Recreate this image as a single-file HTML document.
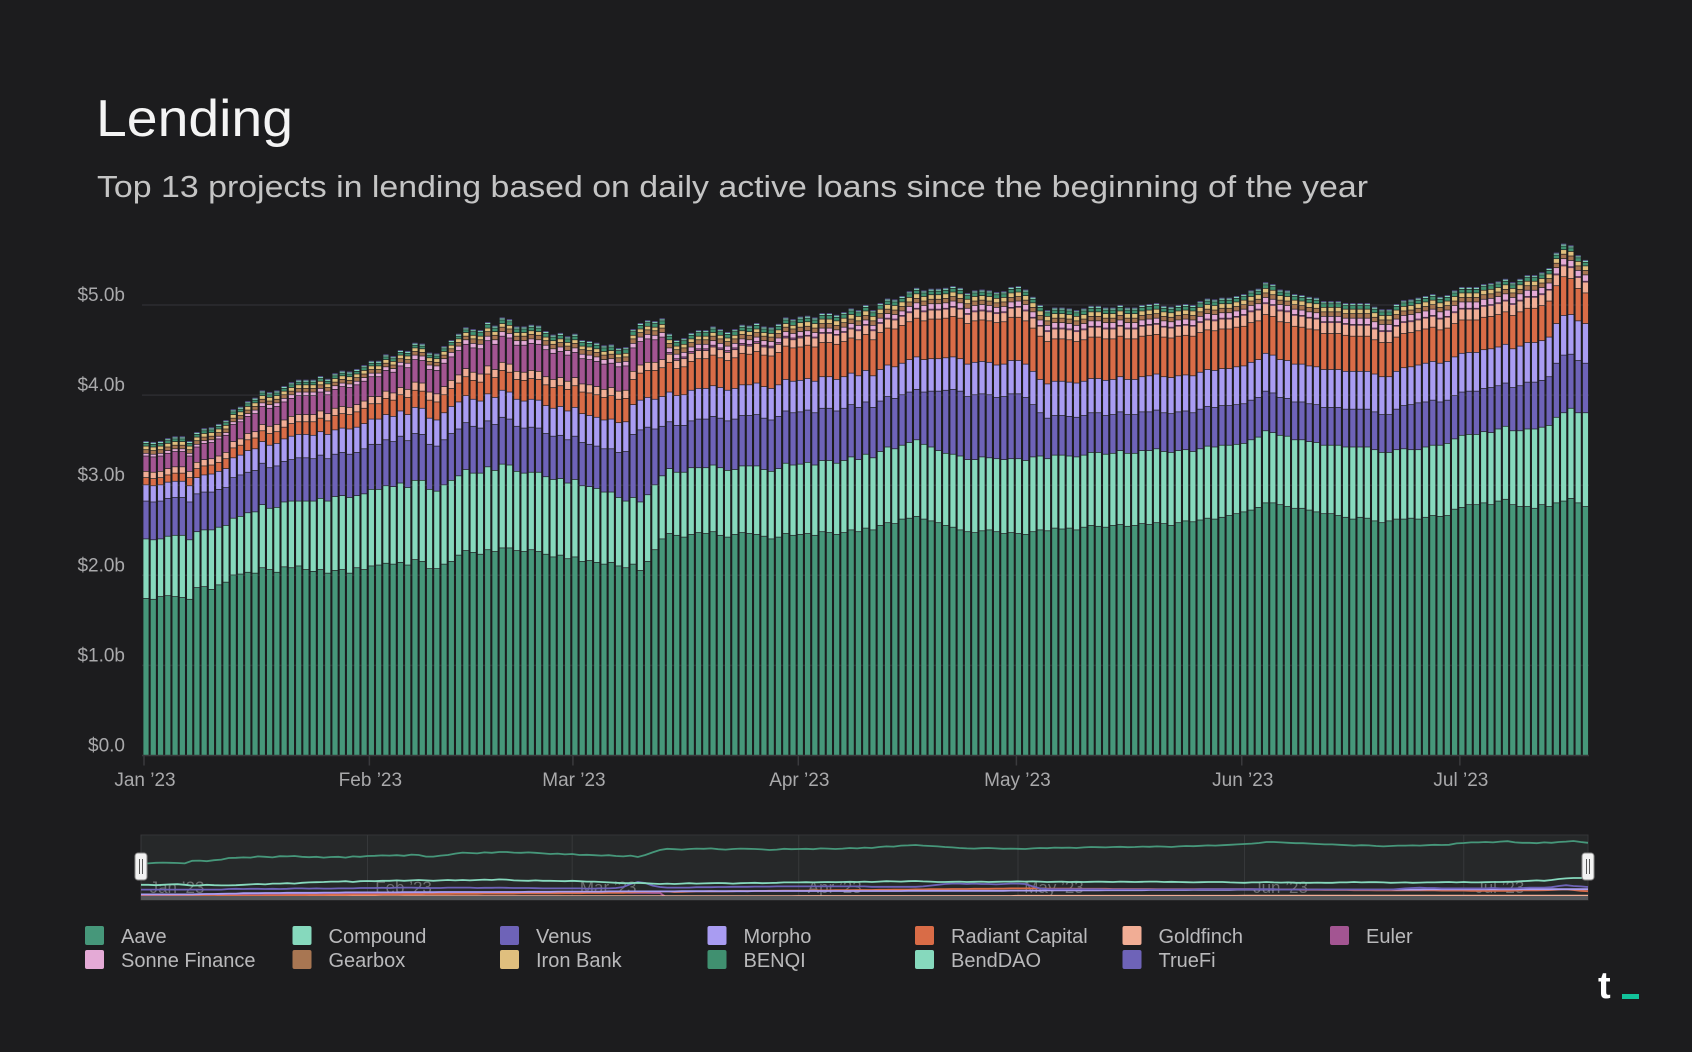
<!DOCTYPE html>
<html><head><meta charset="utf-8">
<style>
html,body{margin:0;padding:0;background:#1c1c1e;}
svg{display:block;font-family:"Liberation Sans",sans-serif;}
</style></head>
<body>
<svg id="chart" width="1692" height="1052" viewBox="0 0 1692 1052">
<rect x="0" y="0" width="1692" height="1052" fill="#1c1c1e"/>
<text x="96" y="136" font-size="52" fill="#f4f4f4" textLength="197" lengthAdjust="spacingAndGlyphs">Lending</text>
<text x="97" y="197" font-size="31" fill="#c4c4c4" textLength="1271" lengthAdjust="spacingAndGlyphs">Top 13 projects in lending based on daily active loans since the beginning of the year</text>
<g id="grid"></g>
<g id="bars"></g>
<g id="axes"></g>
<g id="nav"></g>
<g id="legend"></g>
<g>
<text x="1598" y="998" font-size="38" font-weight="bold" fill="#ffffff">t</text>
<rect x="1622" y="994" width="17" height="5" fill="#12c29a"/>
</g>
</svg>
<script>
// ---- data (billions USD) ----
const monthLabels = ["Jan \u201923","Feb \u201923","Mar \u201923","Apr \u201923","May \u201923","Jun \u201923","Jul \u201923"];
const monthStartDay = [0,31,59,90,120,151,181];
const yTicks = [0,1,2,3,4,5];
const yTickLabels = ["$0.0","$1.0b","$2.0b","$3.0b","$4.0b","$5.0b"];
const seriesNames = ["Aave","Compound","Venus","Morpho","Radiant Capital","Goldfinch","Euler","Sonne Finance","Gearbox","Iron Bank","BENQI","BendDAO","TrueFi"];
const seriesColors = ["#46977a","#86d9bd","#6e63b8","#a99cf2","#d96c47","#f1ad95","#a35592","#e4aad6","#a87652","#e0bf7e","#409070","#86d9bd","#6e63b8"];

const aave = [1.74,1.73,1.76,1.77,1.76,1.75,1.73,1.86,1.87,1.84,1.89,1.92,2.00,2.01,2.03,2.02,2.08,2.06,2.03,2.09,2.08,2.10,2.06,2.04,2.06,2.02,2.05,2.06,2.02,2.08,2.06,
2.10,2.11,2.13,2.12,2.14,2.11,2.17,2.15,2.07,2.07,2.12,2.15,2.22,2.27,2.25,2.23,2.28,2.26,2.30,2.30,2.27,2.26,2.28,2.26,2.23,2.20,2.22,2.18,
2.20,2.15,2.16,2.14,2.12,2.14,2.10,2.08,2.12,2.05,2.15,2.28,2.40,2.46,2.44,2.42,2.45,2.47,2.46,2.48,2.44,2.42,2.45,2.47,2.46,2.45,2.43,2.40,2.42,2.46,2.44,
2.45,2.46,2.44,2.48,2.47,2.45,2.47,2.50,2.48,2.52,2.50,2.55,2.58,2.57,2.62,2.63,2.65,2.62,2.60,2.58,2.55,2.53,2.50,2.48,2.47,2.49,2.50,2.48,2.46,2.47,
2.46,2.45,2.48,2.50,2.49,2.52,2.51,2.52,2.50,2.53,2.55,2.54,2.53,2.55,2.56,2.54,2.55,2.57,2.56,2.58,2.57,2.55,2.58,2.60,2.59,2.61,2.63,2.62,2.64,2.66,2.68,
2.70,2.72,2.75,2.80,2.80,2.78,2.76,2.74,2.74,2.72,2.70,2.68,2.68,2.66,2.64,2.62,2.64,2.63,2.60,2.58,2.60,2.62,2.62,2.63,2.62,2.64,2.66,2.65,2.66,2.73,
2.75,2.78,2.78,2.80,2.78,2.82,2.84,2.78,2.76,2.76,2.74,2.78,2.76,2.80,2.82,2.85,2.80,2.76];
const compound = [0.66,0.66,0.64,0.66,0.68,0.69,0.66,0.62,0.63,0.66,0.64,0.63,0.63,0.64,0.66,0.68,0.70,0.68,0.72,0.72,0.74,0.72,0.76,0.78,0.79,0.80,0.82,0.82,0.84,0.80,0.84,
0.85,0.84,0.86,0.86,0.88,0.86,0.88,0.90,0.88,0.86,0.88,0.90,0.88,0.90,0.88,0.90,0.92,0.90,0.93,0.92,0.88,0.87,0.86,0.88,0.86,0.86,0.85,0.84,
0.86,0.84,0.82,0.82,0.80,0.78,0.76,0.74,0.74,0.76,0.74,0.72,0.70,0.72,0.70,0.72,0.74,0.72,0.73,0.74,0.75,0.74,0.72,0.74,0.75,0.76,0.74,0.75,0.76,0.78,0.78,
0.78,0.79,0.78,0.79,0.80,0.79,0.80,0.81,0.80,0.82,0.80,0.82,0.84,0.83,0.82,0.84,0.85,0.83,0.82,0.80,0.80,0.81,0.82,0.80,0.81,0.82,0.80,0.81,0.82,0.82,
0.83,0.82,0.83,0.82,0.80,0.81,0.82,0.80,0.81,0.80,0.81,0.82,0.81,0.80,0.82,0.81,0.80,0.81,0.82,0.82,0.80,0.81,0.80,0.79,0.78,0.79,0.80,0.80,0.80,0.78,0.77,
0.76,0.78,0.78,0.80,0.78,0.77,0.78,0.76,0.76,0.76,0.77,0.76,0.76,0.78,0.78,0.80,0.78,0.79,0.79,0.78,0.76,0.77,0.78,0.76,0.77,0.78,0.78,0.79,0.80,0.78,
0.80,0.78,0.78,0.79,0.80,0.80,0.81,0.82,0.84,0.86,0.88,0.86,0.90,0.95,0.98,1.00,1.00,1.04];
const venus = [0.42,0.42,0.42,0.42,0.42,0.42,0.42,0.42,0.42,0.42,0.42,0.42,0.45,0.46,0.45,0.46,0.46,0.45,0.46,0.45,0.46,0.48,0.48,0.47,0.48,0.47,0.47,0.48,0.48,0.48,0.50,
0.50,0.50,0.51,0.50,0.52,0.52,0.52,0.51,0.50,0.50,0.50,0.52,0.52,0.52,0.52,0.50,0.51,0.51,0.52,0.51,0.50,0.50,0.50,0.49,0.48,0.48,0.48,0.48,
0.48,0.48,0.47,0.47,0.48,0.48,0.50,0.55,0.70,0.80,0.75,0.62,0.55,0.52,0.52,0.52,0.52,0.54,0.54,0.54,0.55,0.55,0.56,0.56,0.56,0.57,0.57,0.57,0.58,0.58,0.58,
0.58,0.58,0.58,0.58,0.58,0.58,0.58,0.58,0.58,0.58,0.56,0.56,0.56,0.56,0.56,0.56,0.56,0.58,0.62,0.66,0.70,0.72,0.72,0.70,0.72,0.70,0.70,0.68,0.70,0.72,
0.72,0.70,0.58,0.48,0.45,0.44,0.44,0.44,0.44,0.44,0.44,0.44,0.43,0.43,0.43,0.43,0.43,0.43,0.43,0.43,0.43,0.43,0.43,0.43,0.43,0.44,0.44,0.44,0.44,0.44,0.44,
0.44,0.44,0.44,0.44,0.44,0.42,0.42,0.42,0.42,0.42,0.42,0.42,0.42,0.42,0.42,0.42,0.42,0.42,0.42,0.42,0.42,0.45,0.48,0.50,0.52,0.50,0.50,0.48,0.48,0.48,
0.48,0.48,0.48,0.48,0.50,0.48,0.48,0.48,0.50,0.52,0.52,0.52,0.54,0.60,0.64,0.60,0.58,0.55];
const morpho = [0.18,0.18,0.18,0.18,0.18,0.18,0.18,0.18,0.19,0.20,0.20,0.21,0.22,0.22,0.24,0.24,0.24,0.25,0.25,0.25,0.26,0.26,0.26,0.26,0.26,0.27,0.27,0.27,0.28,0.28,0.28,
0.28,0.28,0.28,0.28,0.28,0.29,0.29,0.29,0.29,0.29,0.30,0.30,0.30,0.30,0.30,0.30,0.30,0.30,0.30,0.30,0.30,0.30,0.31,0.31,0.31,0.31,0.32,0.32,
0.32,0.32,0.32,0.32,0.32,0.33,0.33,0.33,0.33,0.33,0.33,0.33,0.33,0.33,0.33,0.34,0.34,0.34,0.34,0.34,0.34,0.34,0.34,0.34,0.34,0.35,0.35,0.35,0.35,0.35,0.35,
0.35,0.35,0.35,0.35,0.35,0.35,0.35,0.35,0.35,0.35,0.35,0.35,0.35,0.35,0.35,0.36,0.36,0.36,0.36,0.36,0.36,0.36,0.36,0.36,0.36,0.36,0.36,0.36,0.36,0.37,
0.37,0.37,0.37,0.37,0.38,0.38,0.38,0.38,0.38,0.38,0.38,0.38,0.39,0.39,0.39,0.39,0.39,0.39,0.40,0.40,0.40,0.40,0.40,0.40,0.41,0.41,0.41,0.41,0.41,0.41,0.42,
0.42,0.42,0.42,0.42,0.42,0.42,0.42,0.42,0.42,0.42,0.42,0.42,0.42,0.42,0.42,0.42,0.42,0.42,0.42,0.42,0.42,0.42,0.42,0.42,0.42,0.43,0.43,0.43,0.43,0.43,
0.43,0.43,0.43,0.43,0.43,0.43,0.43,0.43,0.44,0.44,0.44,0.44,0.44,0.44,0.44,0.44,0.44,0.44];
const radiant = [0.08,0.08,0.08,0.08,0.09,0.09,0.09,0.10,0.10,0.10,0.10,0.11,0.11,0.11,0.12,0.12,0.12,0.13,0.13,0.13,0.14,0.14,0.14,0.15,0.15,0.15,0.16,0.16,0.16,0.17,0.17,
0.17,0.17,0.18,0.18,0.18,0.19,0.19,0.19,0.20,0.20,0.20,0.20,0.21,0.21,0.21,0.21,0.22,0.22,0.22,0.22,0.22,0.23,0.23,0.23,0.23,0.23,0.23,0.24,
0.24,0.24,0.25,0.25,0.25,0.26,0.26,0.26,0.28,0.30,0.30,0.32,0.32,0.33,0.30,0.31,0.32,0.33,0.33,0.34,0.33,0.33,0.34,0.35,0.34,0.35,0.35,0.36,0.36,0.37,0.37,
0.37,0.37,0.38,0.38,0.38,0.39,0.39,0.39,0.40,0.40,0.40,0.41,0.41,0.42,0.42,0.42,0.43,0.43,0.44,0.44,0.44,0.45,0.45,0.45,0.46,0.46,0.46,0.47,0.47,0.48,
0.48,0.48,0.48,0.48,0.47,0.47,0.47,0.47,0.46,0.46,0.46,0.46,0.46,0.45,0.45,0.45,0.45,0.45,0.45,0.44,0.44,0.44,0.44,0.44,0.44,0.44,0.44,0.44,0.44,0.44,0.44,
0.44,0.44,0.43,0.43,0.43,0.42,0.42,0.42,0.41,0.41,0.41,0.40,0.40,0.40,0.40,0.39,0.39,0.39,0.38,0.38,0.38,0.38,0.38,0.38,0.38,0.38,0.38,0.37,0.37,0.37,
0.37,0.36,0.36,0.36,0.36,0.36,0.36,0.37,0.38,0.38,0.38,0.39,0.40,0.42,0.43,0.40,0.36,0.34];
// small series: one base-36 character per day, unit = $10m
const goldfinchCodes = "77777777777777777"+"88888888888888"+"8888899999999999999999999999"+"9999999999999999999999999999999"+"aaaaaaaaaaaaaaaaaaaaaaaaaaaaaa"+"bbbbbbbbbbbbbbbbbbbbbbbbbbbbbbb"+"cccccccccccccccccccccccccccccc"+"cccccccccccccccccc";
const eulerCodes = "hhhhhhhhiijjjjjkkkkkkllllllmmmm"+"mmnnoopppqqqrrrssstttuuuuttts"+"ssssrrrqqqpp2222222222222222222"+"111111111111111111111111111111"+"1111111111111111111111111111111"+"111111111111111111111111111111"+"111111111111111111";
const sonneCodes = "3333333333333334444444444444444"+"4444455555555555555555555555"+"5555555555555555555555555555555"+"555555555555555666666666666666"+"6666666666666666666666666666666"+"666666666666666777777777777777"+"777777777777777777";
const gearboxCodes = "4444444444444444444444444444444"+"4444444444444455555555555555"+"5555555555555555555555555555555"+"555555555555555555555555555555"+"5555555555555555555555555555555"+"555555555555555555555555555555"+"555555555555555555";
const ironBankCodes = "4444444444444444444444444444444"+"4444444444444444444444444444"+"4444444444444444444444444444444"+"555555555555555555555555555555"+"5555555555555555555555555555555"+"555555555555555555555555555555"+"555555555555555555";
const benqiCodes = "3333333333333333333333333333333"+"3333333333333344444444444444"+"4444444444444444444444444444444"+"444444444444444444444444444444"+"4444444444444444444444444444444"+"444444444444444444444444444444"+"444444444444444444";
const bendDaoCodes = "2222222222222222222222222222222"+"2222222222222222222222222222"+"2222222222222222222222222222222"+"222222222222222222222222222222"+"2222222222222222222222222222222"+"222222222222222222222222222222"+"222222222222222222";
const trueFiCodes = "1111111111111111111111111111111"+"1111111111111111111111111111"+"1111111111111111111111111111111"+"111111111111111111111111111111"+"1111111111111111111111111111111"+"111111111111111111111111111111"+"111111111111111111";

function decode(s){ return s.split('').map(c => parseInt(c,36)/100); }
const goldfinch = decode(goldfinchCodes), euler = decode(eulerCodes), sonne = decode(sonneCodes),
      gearbox = decode(gearboxCodes), ironBank = decode(ironBankCodes), benqi = decode(benqiCodes),
      bendDao = decode(bendDaoCodes), trueFi = decode(trueFiCodes);
const series = [aave,compound,venus,morpho,radiant,goldfinch,euler,sonne,gearbox,ironBank,benqi,bendDao,trueFi];

// ---- scales ----
const NS = "http://www.w3.org/2000/svg";
const X0 = 146, DX = 7.27, PL = 142, PR = 1589;
const yBase = 755.5, yPerB = 90.1;
function xPix(i){ return X0 + i*DX; }
function yPix(v){ return yBase - v*yPerB; }
const navBase = 898, navPerB = 20;
function navY(v){ return navBase - v*navPerB; }
function mk(tag, attrs, parent){ const e=document.createElementNS(NS,tag); for(const k in attrs) e.setAttribute(k,attrs[k]); parent.appendChild(e); return e; }

const grid = document.getElementById('grid');
const axes = document.getElementById('axes');
yTicks.forEach((t,k)=>{
  const ln = mk('line',{x1:PL,x2:PR,y1:yPix(t),y2:yPix(t),stroke:t===0?'#3a3a3d':'#2d2d30','stroke-width':1.5},grid);
  
  
  const tx = mk('text',{x:125,y:yPix(t)-4,'text-anchor':'end','font-size':19,fill:'#a9a9ab'},axes);
  tx.textContent = yTickLabels[k];
  
  
});
monthStartDay.forEach((d,k)=>{
  const x = xPix(d)-2;
  const tk = mk('line',{x1:x,x2:x,y1:yBase,y2:yBase+10,stroke:'#3a3a3d','stroke-width':1.5},axes);
  
  
  const tx = mk('text',{x:x+1,y:786,'text-anchor':'middle','font-size':19,fill:'#a9a9ab'},axes);
  tx.textContent = monthLabels[k];
  
  
});

// ---- bars ----
const bars = document.getElementById('bars');
const N = aave.length;
for(let i=0;i<N;i++){
  let cum = 0;
  for(let s=0;s<series.length;s++){
    const v = series[s][i] || 0;
    if(v<=0) continue;
    const y1 = yPix(cum+v), y0 = yPix(cum);
    const r = mk('rect',{x:xPix(i)-2.6,y:y1,width:5.2,height:Math.max(0.6,y0-y1-0.7),fill:seriesColors[s]},bars);
    
    
    cum += v;
  }
}

// ---- navigator ----
const nav = document.getElementById('nav');
const bg = mk('rect',{x:141,y:835,width:1447,height:65,fill:'#262829',stroke:'#333537','stroke-width':1},nav);


const nx0 = 141, nDX = (1588-141)/(N-1);
monthStartDay.forEach((d,k)=>{
  const x = nx0 + d*nDX;
  mk('line',{x1:x,x2:x,y1:835,y2:900,stroke:'#37393b','stroke-width':1},nav);
  const tx = mk('text',{x:x+36,y:893,'text-anchor':'middle','font-size':17,fill:'#6d6f71'},nav);
  tx.textContent = monthLabels[k];
  
  
});
for(let s=series.length-1;s>=0;s--){
  const pts = series[s].slice(0,N).map((v,i)=> (nx0+i*nDX).toFixed(1)+','+navY(v||0).toFixed(1)).join(' ');
  const pl = mk('polyline',{points:pts,fill:'none',stroke:seriesColors[s],'stroke-width':1.8},nav);
  
  
}
mk('rect',{x:141,y:896,width:1447,height:4,fill:'#55575a'},nav);
[141,1588].forEach(hx=>{
  const h = mk('rect',{x:hx-6,y:853,width:12,height:27,rx:3,fill:'#f2f2f2',stroke:'#888','stroke-width':1},nav);
  
  
  mk('line',{x1:hx-1.5,x2:hx-1.5,y1:859,y2:874,stroke:'#555','stroke-width':1},nav);
  mk('line',{x1:hx+1.5,x2:hx+1.5,y1:859,y2:874,stroke:'#555','stroke-width':1},nav);
});

// ---- legend ----
const legend = document.getElementById('legend');
seriesNames.forEach((name,k)=>{
  const col = k%7, row = Math.floor(k/7);
  const lx = 85 + col*207.5, ly = 926 + row*24;
  const g = mk('g',{},legend);
  
  
  mk('rect',{x:lx,y:ly,width:19,height:19,rx:2,fill:seriesColors[k]},g);
  const t = mk('text',{x:lx+36,y:ly+17,'font-size':20,fill:'#b9b9bb'},g);
  t.textContent = name;
});
</script>
</body></html>
